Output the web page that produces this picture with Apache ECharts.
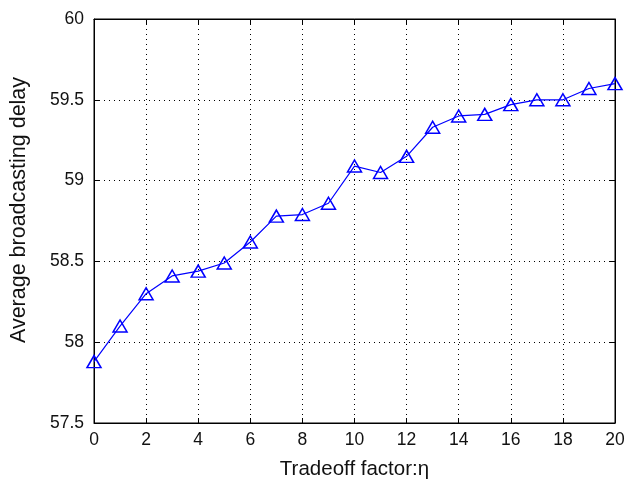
<!DOCTYPE html>
<html><head><meta charset="utf-8">
<script src="https://cdn.jsdelivr.net/npm/echarts@6/dist/echarts.min.js"></script>
<style>html,body{margin:0;padding:0;background:#fff}#c{width:626px;height:479px}</style>
</head><body><div id="c"></div>
<script>
const etaValues = [0,1,2,3,4,5,6,7,8,9,10,11,12,13,14,15,16,17,18,19,20];
const delayValues = [57.88,58.10,58.30,58.41,58.44,58.49,58.62,58.78,58.79,58.86,59.09,59.05,59.15,59.33,59.40,59.41,59.47,59.50,59.50,59.57,59.60];
const xTitle = 'Tradeoff factor:η';
const yTitle = 'Average broadcasting delay';

const chart = echarts.init(document.getElementById('c'), null, {renderer:'canvas'});
const font = 'Liberation Sans, Arial, sans-serif';
const axisCommon = {
  axisLine:{show:true,onZero:false,lineStyle:{color:'#000',width:1}},
  axisTick:{show:true,inside:true,length:5,lineStyle:{color:'#000'}},
};
chart.setOption({
  animation:false,
  grid:{left:94,right:11,top:19,bottom:56,outerBoundsMode:'none',containLabel:false,show:true,borderColor:'#000',borderWidth:1,backgroundColor:'#fff'},
  xAxis:[{
    type:'value',min:0,max:20,interval:2,position:'bottom',
    ...axisCommon,
    axisLabel:{color:'#111',fontFamily:font,fontSize:17.5,margin:8},
    splitLine:{show:true,lineStyle:{color:'#000',type:[1,4],width:1}},
    name:xTitle,nameLocation:'middle',nameGap:36,
    nameTextStyle:{color:'#111',fontFamily:font,fontSize:20.5}
  },{
    type:'value',min:0,max:20,interval:2,position:'top',
    ...axisCommon,axisLabel:{show:false},splitLine:{show:false}
  }],
  yAxis:[{
    type:'value',min:57.5,max:60,interval:0.5,position:'left',
    ...axisCommon,
    axisLabel:{color:'#111',fontFamily:font,fontSize:17.5,margin:10},
    splitLine:{show:true,lineStyle:{color:'#000',type:[1,4],width:1}},
    name:yTitle,nameLocation:'middle',nameGap:64,
    nameTextStyle:{color:'#111',fontFamily:font,fontSize:21.5,padding:[0,0,0,22]}
  },{
    type:'value',min:57.5,max:60,interval:0.5,position:'right',
    ...axisCommon,axisLabel:{show:false},splitLine:{show:false}
  }],
  series:[{
    type:'line',
    data:etaValues.map((x,i)=>[x,delayValues[i]]),
    symbol:'triangle',symbolSize:[14,12],
    lineStyle:{color:'#0000ff',width:1.2},
    itemStyle:{color:'rgba(255,255,255,0)',borderColor:'#0000ff',borderWidth:1.5},
    z:5
  }]
});
</script></body></html>
